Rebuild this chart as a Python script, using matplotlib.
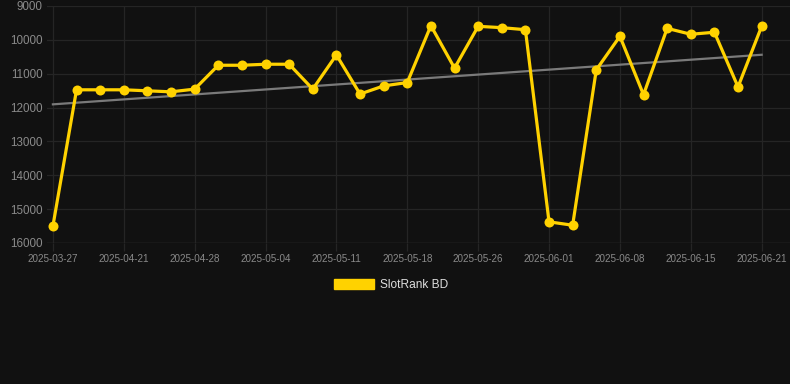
import matplotlib
matplotlib.use("Agg")
import matplotlib.pyplot as plt
import numpy as np

tick_labels = ["2025-03-27", "2025-04-21", "2025-04-28", "2025-05-04", "2025-05-11",
               "2025-05-18", "2025-05-26", "2025-06-01", "2025-06-08", "2025-06-15", "2025-06-21"]
ranks = [15500, 11475, 11475, 11475, 11505, 11535, 11455, 10750, 10750, 10720,
         10720, 11455, 10445, 11600, 11360, 11260, 9580, 10835, 9600, 9640,
         9700, 15375, 15475, 10885, 9895, 11620, 9660, 9835, 9775, 11390, 9600]
series_name = "SlotRank BD"

BG = "#111111"
YELLOW = "#FFD200"
GRID = "#252525"
TXT = "#8a8a8a"

plt.rcParams['font.family'] = ['Liberation Sans', 'DejaVu Sans']

fig = plt.figure(figsize=(7.9, 3.84), dpi=100, facecolor=BG)
ax = fig.add_axes([47/790, 1-243/384, 1-47/790, (243-6)/384], facecolor=BG)

x = np.arange(len(ranks))
slope, intercept = np.polyfit(x, ranks, 1)
ax.plot([x[0], x[-1]], [intercept + slope*x[0], intercept + slope*x[-1]],
        color="#7a7a7a", lw=1.6, zorder=2)
ax.plot(x, ranks, color=YELLOW, lw=2.3, marker='o', markersize=7.2,
        markeredgewidth=0, zorder=3, label=series_name)

ax.set_ylim(16000, 9000)
ax.set_yticks(range(9000, 16001, 1000))
ax.set_xlim(-0.25, 31.2)
tick_pos = list(range(0, len(ranks), 3))
ax.set_xticks(tick_pos)
ax.set_xticklabels(tick_labels)

ax.grid(True, color=GRID, lw=0.9)
ax.set_axisbelow(True)
for s in ax.spines.values():
    s.set_visible(False)
ax.tick_params(axis='y', length=0, pad=3, labelsize=8.4, labelcolor=TXT)
ax.tick_params(axis='x', length=6, width=0.9, color=GRID, pad=2, labelsize=7.1, labelcolor=TXT)
ax.axhline(16000, color="#2e2e2e", lw=1, zorder=1)

handle = matplotlib.patches.Patch(facecolor=YELLOW, edgecolor=YELLOW)
fig.legend([handle], [series_name], loc='center', bbox_to_anchor=(391/790, 1-285/384),
           frameon=False, fontsize=8.6, labelcolor="#dddddd", handlelength=3.3,
           handleheight=0.95, handletextpad=0.5)

fig.savefig("out.png", dpi=100, facecolor=BG)
